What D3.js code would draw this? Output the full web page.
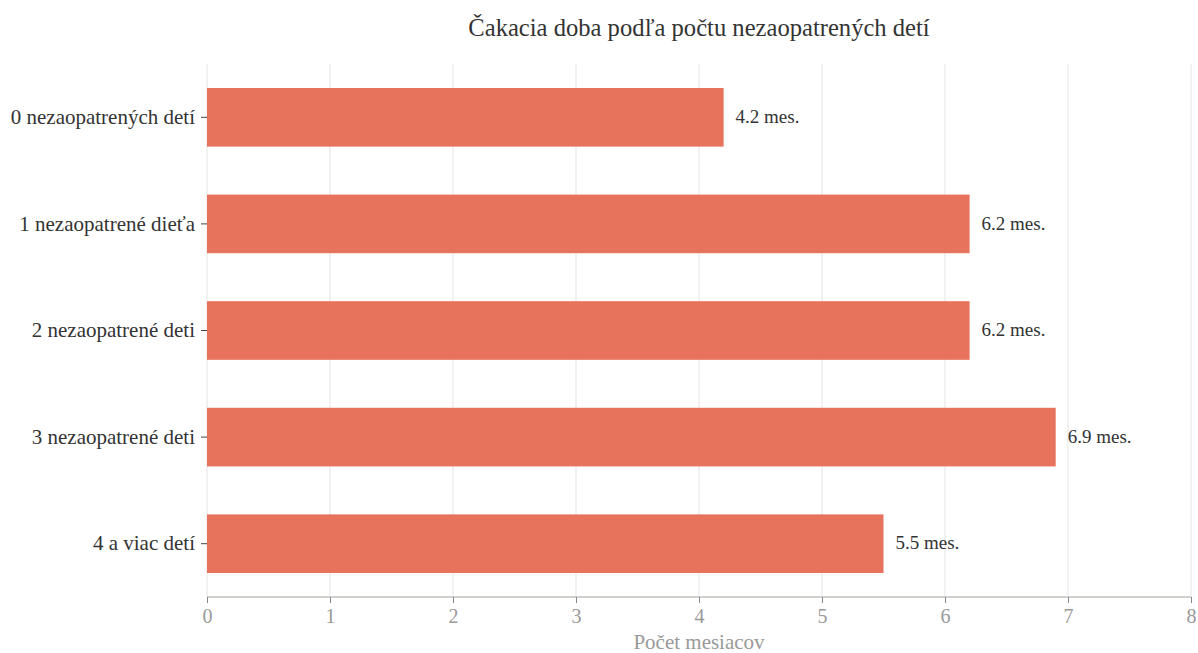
<!DOCTYPE html>
<html><head><meta charset="utf-8">
<script src="https://cdn.jsdelivr.net/npm/d3@7"></script>
<style>
body{margin:0;background:#fff;}
svg text{font-family:"Liberation Serif","Times New Roman",serif;}
</style></head>
<body><svg id="c" width="1198" height="653"></svg>
<script>
const categories = ["0 nezaopatrených detí","1 nezaopatrené dieťa","2 nezaopatrené deti","3 nezaopatrené deti","4 a viac detí"];
const values = [4.2, 6.2, 6.2, 6.9, 5.5];
const xTicks = [0,1,2,3,4,5,6,7,8];
const title = "Čakacia doba podľa počtu nezaopatrených detí";
const xTitle = "Počet mesiacov";

const svg = d3.select("#c");
const m = {l:207, r:7, t:64, b:56};
const W = 1198, H = 653;
const x = d3.scaleLinear().domain([0,8]).range([m.l, W-m.r]);
const y = d3.scaleBand().domain(categories).range([m.t, H-m.b]).paddingInner(0.45).paddingOuter(0.225);

// grid
svg.append("g").selectAll("line").data(xTicks).join("line")
  .attr("x1",d=>x(d)).attr("x2",d=>x(d)).attr("y1",m.t).attr("y2",H-m.b)
  .attr("stroke","#e3e3e3").attr("stroke-width",1);

// bars
svg.append("g").selectAll("rect").data(values).join("rect")
  .attr("x",x(0)).attr("y",(d,i)=>y(categories[i]))
  .attr("width",d=>x(d)-x(0)).attr("height",y.bandwidth())
  .attr("fill","#e8735c");

// value labels
svg.append("g").selectAll("text").data(values).join("text")
  .attr("x",d=>x(d)+12).attr("y",(d,i)=>y(categories[i])+y.bandwidth()/2)
  .attr("dy","0.3em").attr("font-size",19).attr("fill","#333")
  .text(d=>d.toFixed(1)+" mes.");

// x axis
const xa = svg.append("g").attr("transform",`translate(0,${H-m.b})`)
  .call(d3.axisBottom(x).tickValues(xTicks).tickSize(6).tickPadding(6).tickFormat(d3.format("d")));
xa.select(".domain").attr("stroke","#d0d0cc").attr("stroke-width",2).attr("d",`M${x(0)},0H${x(8)}`);
xa.selectAll(".tick line").attr("stroke","#888");
xa.selectAll(".tick text").attr("font-size",20).attr("fill","#999").attr("font-family","Liberation Serif, serif");

// y axis
const ya = svg.append("g").attr("transform",`translate(${m.l},0)`)
  .call(d3.axisLeft(y).tickSize(6).tickPadding(6));
ya.select(".domain").remove();
ya.selectAll(".tick line").attr("stroke","#444");
ya.selectAll(".tick text").attr("font-size",21).attr("fill","#333").attr("font-family","Liberation Serif, serif");

svg.append("text").attr("x",699).attr("y",36).attr("text-anchor","middle")
  .attr("font-size",24.6).attr("fill","#333").text(title);
svg.append("text").attr("x",699).attr("y",649).attr("text-anchor","middle")
  .attr("font-size",21).attr("fill","#999").text(xTitle);
</script></body></html>
